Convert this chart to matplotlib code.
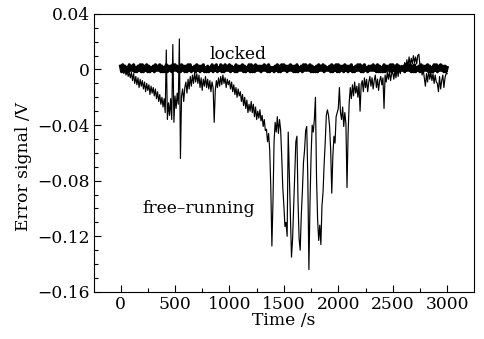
import numpy as np
from matplotlib import pyplot as plt

# free-running error signal, mV, one sample every 10 s from 0 to 3000 s
free_step = 10
free_mv = [
    1, -2, 2, -3, 0, -4, -1, -5, -2, -6,
    -2, -8, -3, -10, -5, -11, -6, -13, -7, -12,
    -8, -14, -9, -16, -10, -15, -11, -18, -12, -17,
    -13, -19, -14, -21, -16, -23, -18, -25, -20, -27,
    -21, -31, 14, -36, -24, -33, -21, -36, 18, -38,
    -19, -28, -17, -25, 22, -64, -19, -14, -23, -13,
    -9, -17, -7, -14, -5, -12, -4, -10, -2, -9,
    -3, -10, -4, -13, -6, -15, -7, -12, -5, -13,
    -7, -14, -8, -16, -9, -13, -38, -15, -8, -13,
    -6, -12, -5, -11, -4, -10, -6, -13, -7, -11,
    -8, -14, -9, -16, -11, -18, -13, -20, -14, -19,
    -16, -23, -18, -26, -20, -28, -22, -31, -25, -30,
    -23, -31, -25, -34, -27, -36, -30, -35, -29, -37,
    -33, -41, -36, -44, -43, -52, -46, -58, -85, -127,
    -95, -52, -38, -45, -34, -46, -36, -43, -62, -85,
    -98, -113, -110, -120, -45, -75, -108, -135, -122, -98,
    -72, -52, -48, -95, -122, -130, -105, -88, -67, -58,
    -44, -41, -78, -144, -96, -62, -40, -45, -36, -20,
    -78, -108, -123, -112, -126, -98, -88, -68, -52, -33,
    -29, -33, -41, -58, -89, -62, -48, -53, -34, -31,
    -28, -13, -31, -36, -27, -41, -31, -39, -85, -46,
    -24, -13, -21, -11, -19, -9, -17, -12, -20, -10,
    -30, -11, -8, -16, -6, -13, -7, -16, -9, -5,
    -12, -6, -14, -8, -4, -13, -7, -15, -8, -5,
    -11, -6, -28, -4, -9, -2, -7, -1, -8, -3,
    -2, -7, -1, -6, 1, -5, 2, -3, 3, 2,
    0, 5, 1, 7, 2, 9, 3, 8, 4, 10,
    5, 9, 4, 10, 11, 3, 1, -4, 0, -6,
    -12, -3, -9, -1, -7, -2, -8, -3, -10, -4,
    -9, -10, -16, -5, -14, -8, -4, -13, -6, -3,
    -3,
]

# locked error signal, mV, one sample every 10 s
locked_step = 10
locked_mv = [
    2, -2, 3, -1, 2, -2, 1, -2, 3, -1,
    2, -1, 3, -2, 1, -2, 2, -1, 3, -2,
    3, -2, 2, -1, 3, -2, 2, -2, 1, -1,
    2, -2, 3, -1, 2, -1, 3, -2, 2, -2,
    1, -2, 3, -2, 2, -1, 2, -2, 3, -1,
    3, -1, 2, -2, 1, -2, 3, -1, 2, -2,
    2, -2, 3, -1, 3, -2, 1, -1, 2, -2,
    3, -1, 2, -2, 2, -1, 3, -2, 1, -2,
    2, -2, 1, -1, 3, -2, 2, -1, 3, -2,
    1, -1, 3, -2, 2, -2, 3, -1, 2, -1,
    3, -2, 2, -1, 1, -2, 3, -2, 2, -1,
    2, -1, 3, -2, 2, -2, 1, -1, 3, -2,
    3, -2, 2, -2, 3, -1, 2, -1, 2, -2,
    2, -1, 3, -1, 2, -2, 3, -2, 1, -1,
    1, -2, 2, -1, 3, -2, 2, -2, 3, -1,
    3, -1, 2, -2, 2, -1, 3, -1, 2, -2,
    2, -2, 3, -2, 1, -1, 2, -2, 3, -1,
    3, -1, 2, -1, 3, -2, 2, -2, 1, -2,
    2, -2, 3, -1, 2, -1, 3, -2, 2, -1,
    1, -1, 2, -2, 3, -2, 2, -1, 3, -2,
    3, -2, 2, -1, 2, -2, 3, -1, 2, -2,
    2, -1, 3, -2, 1, -2, 2, -1, 3, -1,
    3, -2, 2, -2, 3, -1, 1, -2, 2, -1,
    2, -1, 3, -1, 2, -2, 3, -2, 2, -2,
    1, -2, 3, -2, 2, -1, 2, -1, 3, -2,
    3, -1, 2, -2, 3, -2, 2, -1, 1, -1,
    2, -2, 3, -1, 2, -1, 3, -2, 2, -2,
    3, -2, 1, -1, 2, -2, 3, -1, 2, -1,
    2, -1, 3, -2, 2, -2, 1, -2, 3, -1,
    3, -2, 2, -1, 3, -1, 2, -2, 2, -2,
    1,
]

x_ticks = [0, 500, 1000, 1500, 2000, 2500, 3000]
y_ticks = [-0.16, -0.12, -0.08, -0.04, 0, 0.04]
y_tick_labels = ["\u22120.16", "\u22120.12", "\u22120.08", "\u22120.04", "0", "0.04"]

plt.rcParams['font.family'] = ['DejaVu Serif']
fs = 12.3

t_free = np.arange(len(free_mv)) * free_step
t_locked = np.arange(len(locked_mv)) * locked_step
v_free = np.array(free_mv) / 1000
v_locked = np.array(locked_mv) / 1000 + 0.0004

fig = plt.figure(figsize=(4.84, 3.39), dpi=100)
ax = fig.add_axes([0.194, 0.139, 0.785, 0.82])

ax.plot(t_free, v_free, color="black", lw=0.85)
ax.plot(t_locked, v_locked, color="black", lw=2.3)

ax.text(1080, 0.0105, "locked", fontsize=fs, ha="center", va="center")
ax.text(720, -0.0997, "free\u2013running", fontsize=fs, ha="center", va="center")

ax.set_xlim(-245, 3245)
ax.set_ylim(-0.16, 0.04)
ax.set_xticks(x_ticks)
ax.set_xticks(np.arange(250, 3000, 500), minor=True)
ax.set_yticks(y_ticks)
ax.set_yticklabels(y_tick_labels)
ax.set_yticks(np.arange(-0.15, 0.04, 0.01), minor=True)
ax.tick_params(direction="in", labelsize=fs, length=5, width=0.8, pad=3)
ax.tick_params(which="minor", direction="in", length=3, width=0.8)

ax.set_xlabel("Time /s", fontsize=fs, labelpad=-1)
ax.set_ylabel("Error signal /V", fontsize=fs)
ax.yaxis.set_label_coords(-0.163, 0.45)

plt.savefig("out.png", dpi=100)
plt.close('all')
